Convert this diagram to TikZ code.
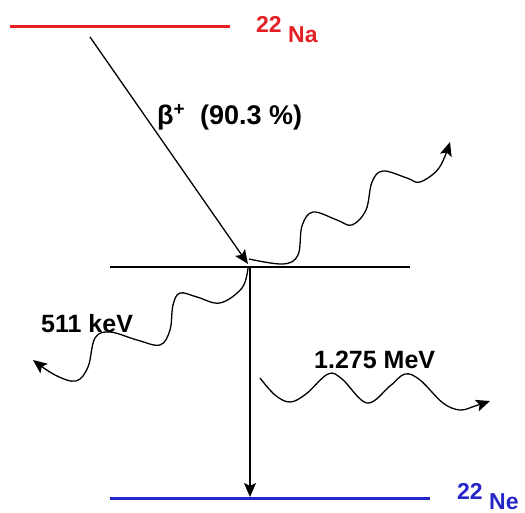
\documentclass[tikz,border=0pt]{standalone}
\usepackage{fontspec}
\setmainfont{Liberation Sans}
\usetikzlibrary{arrows.meta}
\definecolor{nared}{RGB}{228,32,36}
\definecolor{neblue}{RGB}{38,38,200}
\begin{document}
\begin{tikzpicture}[x=1pt,y=-1pt,
  level/.style={line width=3pt},
  thin/.style={line width=1.3pt},
  tip/.style={-{Stealth[length=14pt,width=12pt,inset=3pt]}},
  lab/.style={inner sep=0pt,anchor=base west,font=\bfseries\fontsize{25}{28}\selectfont},
  lvl/.style={inner sep=0pt,anchor=base west,font=\bfseries\fontsize{23}{26}\selectfont}]
\useasboundingbox[fill=white] (0,0) rectangle (525,513);
% coordinates
\coordinate (naL) at (10,27);  \coordinate (naR) at (230,27);
\coordinate (midL) at (110,267); \coordinate (midR) at (410,267);
\coordinate (neL) at (110,498); \coordinate (neR) at (430,498);
\coordinate (bstart) at (90,37); \coordinate (vtx) at (248,264);
\coordinate (vtop) at (250,267); \coordinate (vbot) at (250,497);
% levels
\draw[level,nared] (naL) -- (naR);
\draw[level,neblue] (neL) -- (neR);
\draw[thin] (midL) -- (midR);
% transitions
\draw[thin,tip] (bstart) -- (vtx);
\draw[thin,tip] (vtop) -- (vbot);
% photons
\draw[thin,tip] plot[smooth,tension=0.6] coordinates {(249,259) (283,264) (298,255) (302,226) (313,212) (337,220) (352,225) (366,210) (372,182) (383,171) (407,178) (420,182) (439,168) (450,142)};
\draw[thin,tip] plot[smooth,tension=0.6] coordinates {(248,268) (242,288) (220,303) (197,297) (180,293) (173,305) (170,330) (160,345) (137,340) (110,332) (95,338) (88,367) (76,381) (55,375) (33,360)};
\draw[thin,tip] plot[smooth,tension=0.6] coordinates {(260,378) (275,395) (290,402) (306,394) (328,374) (342,379) (367,403) (390,386) (405,374) (420,380) (443,403) (460,410) (475,406) (490,401)};
% labels
\node[lvl,text=nared] (na) at (256,43) {\raisebox{10pt}{22} Na};
\node[lvl,text=neblue] (ne) at (457,509) {\raisebox{10pt}{22} Ne};
\node[lab,font=\bfseries\fontsize{27}{30}\selectfont] (beta) at (157,125) {β\textsuperscript{+}\ \ (90.3 \%)};
\node[lab] (kev) at (41,332) {511 keV};
\node[lab] (mev) at (314,368) {1.275 MeV};
\end{tikzpicture}
\end{document}
